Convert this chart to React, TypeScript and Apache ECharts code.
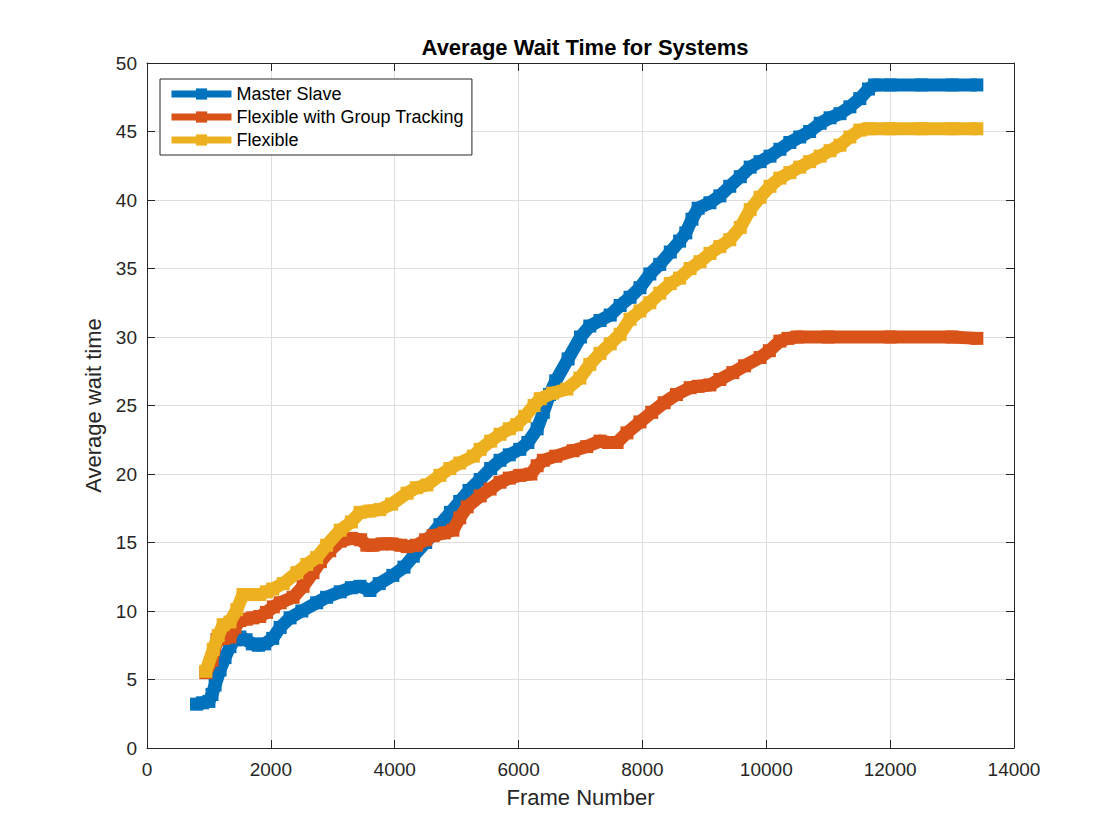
import React, { useEffect, useRef } from "react";
import * as echarts from "echarts";

const chartTitle = "Average Wait Time for Systems";
const xAxisName = "Frame Number";
const yAxisName = "Average wait time";
const seriesNames = ["Master Slave", "Flexible with Group Tracking", "Flexible"];
const seriesColors = ["#0072BD", "#D95319", "#EDB120"];

const masterFrames = [
  800, 900, 1000, 1050, 1100, 1180, 1260, 1340, 1420, 1500, 1600, 1700, 1800, 1900, 2030, 2150, 2310, 2500,
  2740, 2900, 3120, 3300, 3440, 3600, 3750, 3970, 4150, 4300, 4500, 4730, 4900, 5050, 5200, 5380, 5550, 5700,
  5850, 6020, 6150, 6300, 6400, 6500, 6600, 6800, 7000, 7150, 7315, 7480, 7640, 7800, 7960, 8120, 8280, 8450,
  8600, 8700, 8800, 8900, 9090, 9250, 9410, 9580, 9740, 9900, 10060, 10220, 10380, 10540, 10700, 10870, 11030,
  11190, 11350, 11510, 11650, 11750, 12000, 12500, 13000, 13400,
];
const masterWait = [
  3.2, 3.3, 3.4, 3.9, 4.6, 5.7, 6.6, 7.4, 7.9, 8.1, 7.9, 7.6, 7.5, 7.6, 8.0, 8.8, 9.5, 10.0,
  10.6, 11.0, 11.4, 11.7, 11.8, 11.5, 12.0, 12.6, 13.2, 14.0, 15.0, 16.3, 17.2, 18.0, 18.8, 19.6, 20.4, 21.0,
  21.4, 21.8, 22.3, 23.3, 24.5, 25.8, 26.8, 28.4, 30.0, 30.8, 31.2, 31.6, 32.3, 32.9, 33.6, 34.6, 35.3, 36.2,
  37.0, 37.6, 38.6, 39.4, 39.8, 40.3, 41.0, 41.7, 42.4, 42.8, 43.2, 43.7, 44.2, 44.6, 45.0, 45.6, 46.0,
  46.3, 46.8, 47.4, 48.1, 48.4, 48.4, 48.4, 48.4, 48.4,
];

const groupFrames = [
  950, 1050, 1130, 1240, 1340, 1420, 1500, 1600, 1710, 1820, 1930, 2040, 2150, 2360, 2520, 2680, 2800, 2950,
  3120, 3300, 3450, 3550, 3650, 3800, 3950, 4100, 4200, 4350, 4500, 4620, 4800, 4940, 5050, 5170, 5380, 5540,
  5700, 5850, 6020, 6200, 6300, 6400, 6600, 6880, 7100, 7315, 7450, 7590, 7750, 7960, 8150, 8350, 8550, 8770,
  8900, 9090, 9250, 9460, 9650, 9900, 10050, 10220, 10350, 10500, 11000, 12000, 13000, 13400,
];
const groupWait = [
  5.5, 6.4, 7.9, 8.0, 8.1, 8.8, 9.3, 9.4, 9.5, 9.6, 9.9, 10.3, 10.6, 11.0, 11.8, 12.8, 13.6, 14.4,
  15.1, 15.3, 15.2, 14.8, 14.8, 14.9, 14.9, 14.8, 14.7, 14.8, 15.2, 15.5, 15.7, 15.9, 16.8, 17.6, 18.4, 18.9,
  19.4, 19.7, 19.9, 20.0, 20.6, 21.0, 21.3, 21.7, 22.0, 22.4, 22.3, 22.3, 23.0, 23.8, 24.5, 25.2, 25.8, 26.3,
  26.4, 26.5, 26.9, 27.4, 27.9, 28.5, 29.0, 29.7, 29.9, 30.0, 30.0, 30.0, 30.0, 29.9,
];

const flexFrames = [
  950, 1070, 1150, 1230, 1340, 1450, 1550, 1700, 1820, 1930, 2030, 2200, 2420, 2580, 2740, 2900, 3120, 3300,
  3440, 3600, 3760, 3950, 4200, 4350, 4520, 4730, 4890, 5050, 5270, 5380, 5550, 5700, 5850, 5970, 6100, 6250,
  6350, 6550, 6780, 6990, 7150, 7315, 7480, 7640, 7800, 7960, 8120, 8280, 8450, 8600, 8770, 8930, 9090, 9250,
  9410, 9580, 9740, 9900, 10060, 10220, 10380, 10540, 10700, 10870, 11030, 11190, 11350, 11510, 11650, 12000,
  12500, 13000, 13400,
];
const flexWait = [
  5.6, 7.2, 8.2, 9.0, 9.2, 10.1, 11.2, 11.2, 11.2, 11.4, 11.6, 12.0, 12.8, 13.4, 13.9, 14.8, 15.9, 16.5,
  17.2, 17.3, 17.4, 17.8, 18.6, 19.0, 19.2, 19.9, 20.4, 20.8, 21.3, 21.8, 22.4, 22.9, 23.3, 23.6, 24.2, 25.0,
  25.5, 25.9, 26.2, 27.0, 28.0, 28.8, 29.5, 30.2, 31.3, 31.9, 32.5, 33.2, 33.9, 34.3, 35.0, 35.5, 36.1, 36.6,
  37.1, 38.0, 39.3, 40.2, 41.0, 41.6, 42.0, 42.4, 42.8, 43.2, 43.6, 44.0, 44.6, 45.1, 45.2, 45.2,
  45.2, 45.2, 45.2,
];

const xMin = 0;
const xMax = 14000;
const xStep = 2000;
const yMin = 0;
const yMax = 50;
const yStep = 5;

const zip = (xs: number[], ys: number[]) => xs.map((x, i) => [x, ys[i]]);

const FONT = "'Liberation Sans', Arial, Helvetica, sans-serif";
const INK = "#262626";

const axisLineOpt = () => ({ show: true, onZero: false, lineStyle: { color: INK, width: 1 } });
const axisTickOpt = () => ({ show: true, inside: true, length: 8, lineStyle: { color: INK, width: 1 } });

export default function App() {
  const ref = useRef<HTMLDivElement>(null);

  useEffect(() => {
    if (!ref.current) return;
    const chart = echarts.init(ref.current, undefined, { renderer: "svg" });

    const seriesData = [
      zip(masterFrames, masterWait),
      zip(groupFrames, groupWait),
      zip(flexFrames, flexWait),
    ];

    chart.setOption({
      animation: false,
      backgroundColor: "#ffffff",
      textStyle: { fontFamily: FONT },
      title: {
        text: chartTitle,
        left: 580,
        textAlign: "center",
        top: 31,
        textStyle: { fontFamily: FONT, fontSize: 22, fontWeight: "bold", color: "#000" },
      },
      grid: { left: 147, right: 106, top: 63, bottom: 92, containLabel: false },
      legend: {
        orient: "vertical",
        left: 160,
        top: 79,
        padding: [6, 8, 6, 8],
        itemGap: 5,
        itemWidth: 60,
        itemHeight: 14,
        backgroundColor: "#ffffff",
        borderColor: INK,
        borderWidth: 1,
        borderRadius: 0,
        lineStyle: { width: 7 },
        textStyle: { fontFamily: FONT, fontSize: 18, lineHeight: 18, color: "#000" },
        data: seriesNames,
      },
      xAxis: [
        {
          type: "value",
          min: xMin,
          max: xMax,
          interval: xStep,
          position: "bottom",
          name: xAxisName,
          nameLocation: "middle",
          nameGap: 38,
          nameTextStyle: { fontFamily: FONT, fontSize: 22, color: INK },
          axisLine: axisLineOpt(),
          axisTick: axisTickOpt(),
          axisLabel: {
            fontFamily: FONT,
            fontSize: 19,
            color: INK,
            margin: 12,
            formatter: (v: number) => String(v),
          },
          splitLine: { show: true, lineStyle: { color: "#dedede", width: 1 } },
        },
        {
          type: "value",
          min: xMin,
          max: xMax,
          interval: xStep,
          position: "top",
          axisLine: axisLineOpt(),
          axisTick: axisTickOpt(),
          axisLabel: { show: false },
          splitLine: { show: false },
        },
      ],
      yAxis: [
        {
          type: "value",
          min: yMin,
          max: yMax,
          interval: yStep,
          position: "left",
          name: yAxisName,
          nameLocation: "middle",
          nameGap: 33,
          nameTextStyle: { fontFamily: FONT, fontSize: 22, color: INK },
          axisLine: axisLineOpt(),
          axisTick: axisTickOpt(),
          axisLabel: {
            fontFamily: FONT,
            fontSize: 19,
            color: INK,
            margin: 10,
            formatter: (v: number) => String(v),
          },
          splitLine: { show: true, lineStyle: { color: "#dedede", width: 1 } },
        },
        {
          type: "value",
          min: yMin,
          max: yMax,
          interval: yStep,
          position: "right",
          axisLine: axisLineOpt(),
          axisTick: axisTickOpt(),
          axisLabel: { show: false },
          splitLine: { show: false },
        },
      ],
      series: seriesNames.map((name, i) => ({
        name,
        type: "line",
        xAxisIndex: 0,
        yAxisIndex: 0,
        data: seriesData[i],
        symbol: "rect",
        symbolSize: 13,
        showSymbol: true,
        lineStyle: { width: 13, color: seriesColors[i], cap: "butt", join: "round" },
        itemStyle: { color: seriesColors[i], borderWidth: 0 },
        emphasis: { disabled: true },
        z: 2 + i,
      })),
    });

    return () => chart.dispose();
  }, []);

  return (
    <div
      ref={ref}
      style={{ position: "absolute", left: 0, top: 0, width: 1120, height: 840 }}
    />
  );
}
